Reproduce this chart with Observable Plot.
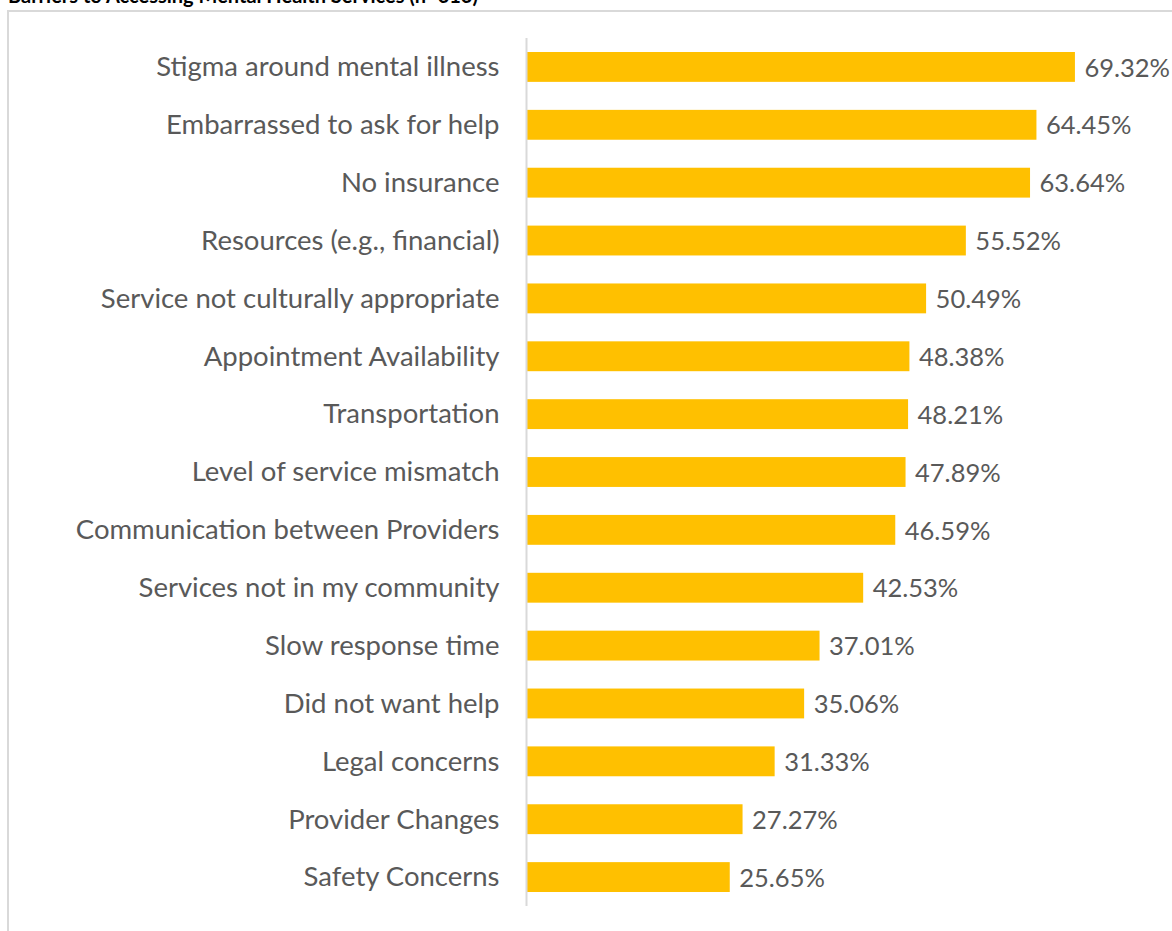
<!DOCTYPE html>
<html>
<head>
<meta charset="utf-8">
<script src="https://cdn.jsdelivr.net/npm/d3@7"></script>
<script src="https://cdn.jsdelivr.net/npm/@observablehq/plot@0.6"></script>
<style>
  html, body { margin: 0; padding: 0; background: #fff; overflow: hidden; }
  #wrap { position: relative; width: 1172px; height: 931px; }
  #title { position: absolute; left: 8px; top: -17px; font-family: Lato, sans-serif; font-weight: bold; font-size: 20px; color: #000; white-space: nowrap; }
  #border { position: absolute; left: 7px; top: 10px; width: 1180px; height: 940px; border: 2px solid #d9d9d9; box-sizing: border-box; }
  #chart { position: absolute; left: 0; top: 0; }
</style>
</head>
<body>
<div id="wrap">
  <div id="title">Barriers to Accessing Mental Health Services (n=616)</div>
  <div id="border"></div>
  <div id="chart"></div>
</div>
<script>
const categories = [
  "Stigma around mental illness",
  "Embarrassed to ask for help",
  "No insurance",
  "Resources (e.g., financial)",
  "Service not culturally appropriate",
  "Appointment Availability",
  "Transportation",
  "Level of service mismatch",
  "Communication between Providers",
  "Services not in my community",
  "Slow response time",
  "Did not want help",
  "Legal concerns",
  "Provider Changes",
  "Safety Concerns"
];
const values = [69.32, 64.45, 63.64, 55.52, 50.49, 48.38, 48.21, 47.89, 46.59, 42.53, 37.01, 35.06, 31.33, 27.27, 25.65];
const data = categories.map((c, i) => ({category: c, value: values[i]}));

const chart = Plot.plot({
  width: 1172,
  height: 931,
  marginLeft: 527,
  marginRight: 0,
  marginTop: 38,
  marginBottom: 25,
  style: {fontFamily: "Lato, sans-serif", fontSize: "27px", color: "#595959", background: "transparent"},
  x: {domain: [0, 81.6], axis: null},
  y: {domain: categories, padding: 0, round: false, label: null},
  marks: [
    Plot.barX(data, {x: "value", y: "category", fill: "#FFC000", insetTop: 14, insetBottom: 14}),
    Plot.ruleX([0], {stroke: "#d9d9d9", strokeWidth: 2, dx: -1}),
    Plot.text(data, {x: "value", y: "category", text: d => d.value.toFixed(2) + "%", textAnchor: "start", dx: 9, dy: 1, fill: "#595959", fontSize: 25.5}),
    Plot.axisY({tickSize: 0, tickPadding: 28, label: null, fontSize: 27.5, fill: "#595959"})
  ]
});
document.getElementById("chart").appendChild(chart);
</script>
</body>
</html>
